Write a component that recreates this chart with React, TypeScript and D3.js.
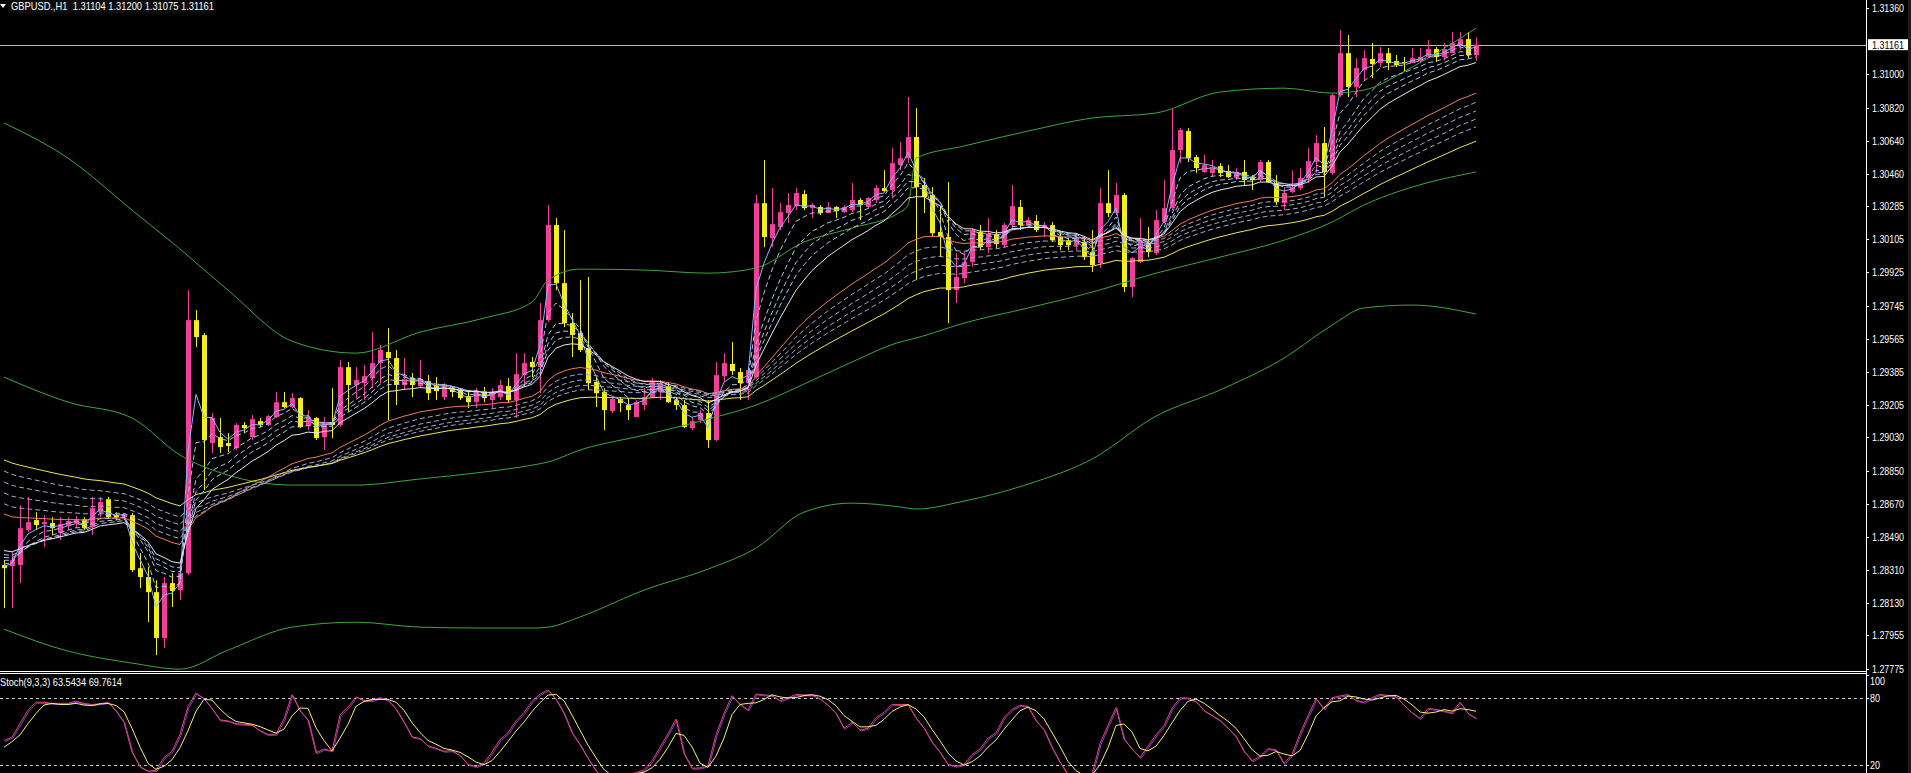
import * as d3 from 'd3';

const W = 1911;
const H = 773;
const AXIS_X = 1866;
const FONT = "'Liberation Sans', Arial, sans-serif";

// GBPUSD H1 bars, [open, high, low, close]
const ohlc: [number, number, number, number][] = [
  [1.28337, 1.28364, 1.28103, 1.28320], [1.28331, 1.28407, 1.28103, 1.28364], [1.28337, 1.28662, 1.28239, 1.28537],
  [1.28527, 1.28706, 1.28516, 1.28570], [1.28581, 1.28624, 1.28527, 1.28554], [1.28559, 1.28608, 1.28434, 1.28570],
  [1.28565, 1.28597, 1.28500, 1.28537], [1.28510, 1.28597, 1.28472, 1.28559], [1.28548, 1.28597, 1.28527, 1.28576],
  [1.28559, 1.28603, 1.28543, 1.28586], [1.28586, 1.28597, 1.28527, 1.28537], [1.28543, 1.28706, 1.28500, 1.28646],
  [1.28624, 1.28706, 1.28597, 1.28679], [1.28695, 1.28706, 1.28592, 1.28597], [1.28608, 1.28624, 1.28581, 1.28597],
  [1.28597, 1.28619, 1.28581, 1.28614], [1.28608, 1.28619, 1.28299, 1.28310], [1.28320, 1.28402, 1.28212, 1.28272],
  [1.28272, 1.28326, 1.28027, 1.28190], [1.28190, 1.28255, 1.27848, 1.27941], [1.27941, 1.28272, 1.27886, 1.28239],
  [1.28239, 1.28293, 1.28109, 1.28196], [1.28201, 1.28353, 1.28147, 1.28293], [1.28293, 1.29829, 1.28283, 1.29666],
  [1.29666, 1.29721, 1.29520, 1.29574], [1.29585, 1.29596, 1.28744, 1.29015], [1.28999, 1.29162, 1.28945, 1.29135],
  [1.29031, 1.29135, 1.28945, 1.28977], [1.28999, 1.29053, 1.28950, 1.28983], [1.28972, 1.29107, 1.28961, 1.29097],
  [1.29097, 1.29113, 1.29053, 1.29080], [1.29031, 1.29151, 1.29015, 1.29129], [1.29118, 1.29135, 1.29086, 1.29097],
  [1.29097, 1.29151, 1.29091, 1.29145], [1.29140, 1.29276, 1.29135, 1.29221], [1.29221, 1.29276, 1.29189, 1.29194],
  [1.29194, 1.29270, 1.29189, 1.29243], [1.29243, 1.29248, 1.29080, 1.29086], [1.29091, 1.29178, 1.29069, 1.29140],
  [1.29135, 1.29140, 1.29015, 1.29026], [1.29031, 1.29140, 1.28961, 1.29113], [1.29113, 1.29297, 1.29026, 1.29097],
  [1.29097, 1.29449, 1.29086, 1.29411], [1.29411, 1.29439, 1.29167, 1.29314], [1.29314, 1.29411, 1.29243, 1.29341],
  [1.29324, 1.29422, 1.29232, 1.29362], [1.29352, 1.29601, 1.29297, 1.29433], [1.29433, 1.29531, 1.29324, 1.29504],
  [1.29493, 1.29623, 1.29124, 1.29460], [1.29460, 1.29504, 1.29205, 1.29314], [1.29314, 1.29460, 1.29287, 1.29346],
  [1.29352, 1.29379, 1.29248, 1.29314], [1.29308, 1.29449, 1.29297, 1.29346], [1.29335, 1.29368, 1.29232, 1.29270],
  [1.29308, 1.29357, 1.29232, 1.29281], [1.29248, 1.29324, 1.29232, 1.29308], [1.29297, 1.29303, 1.29248, 1.29276],
  [1.29287, 1.29297, 1.29232, 1.29243], [1.29254, 1.29276, 1.29189, 1.29221], [1.29221, 1.29297, 1.29189, 1.29276],
  [1.29276, 1.29303, 1.29221, 1.29243], [1.29232, 1.29297, 1.29189, 1.29270], [1.29248, 1.29341, 1.29232, 1.29314],
  [1.29308, 1.29352, 1.29216, 1.29232], [1.29232, 1.29487, 1.29135, 1.29373], [1.29368, 1.29487, 1.29303, 1.29433],
  [1.29439, 1.29466, 1.29357, 1.29411], [1.29411, 1.29759, 1.29270, 1.29666], [1.29666, 1.30291, 1.29655, 1.30182],
  [1.30182, 1.30220, 1.29829, 1.29867], [1.29867, 1.30155, 1.29628, 1.29650], [1.29650, 1.29704, 1.29466, 1.29585],
  [1.29596, 1.29883, 1.29493, 1.29504], [1.29514, 1.29900, 1.29287, 1.29324], [1.29330, 1.29357, 1.29194, 1.29270],
  [1.29276, 1.29297, 1.29069, 1.29178], [1.29173, 1.29248, 1.29162, 1.29238], [1.29238, 1.29248, 1.29167, 1.29216],
  [1.29205, 1.29243, 1.29124, 1.29178], [1.29140, 1.29232, 1.29140, 1.29221], [1.29205, 1.29297, 1.29178, 1.29248],
  [1.29248, 1.29352, 1.29243, 1.29335], [1.29276, 1.29341, 1.29232, 1.29324], [1.29308, 1.29324, 1.29216, 1.29221],
  [1.29232, 1.29248, 1.29178, 1.29205], [1.29205, 1.29232, 1.29080, 1.29086], [1.29080, 1.29140, 1.29069, 1.29118],
  [1.29124, 1.29178, 1.29107, 1.29162], [1.29162, 1.29232, 1.28972, 1.29015], [1.29015, 1.29439, 1.29010, 1.29368],
  [1.29362, 1.29487, 1.29330, 1.29433], [1.29428, 1.29547, 1.29368, 1.29390], [1.29384, 1.29406, 1.29232, 1.29324],
  [1.29324, 1.29411, 1.29232, 1.29395], [1.29357, 1.30345, 1.29352, 1.30301], [1.30301, 1.30535, 1.30062, 1.30117],
  [1.30111, 1.30383, 1.30062, 1.30187], [1.30171, 1.30301, 1.30155, 1.30252], [1.30247, 1.30356, 1.30193, 1.30291],
  [1.30285, 1.30383, 1.30263, 1.30356], [1.30350, 1.30372, 1.30263, 1.30274], [1.30274, 1.30301, 1.30220, 1.30291],
  [1.30280, 1.30291, 1.30236, 1.30247], [1.30247, 1.30307, 1.30247, 1.30280], [1.30280, 1.30285, 1.30220, 1.30258],
  [1.30252, 1.30291, 1.30247, 1.30280], [1.30263, 1.30410, 1.30252, 1.30318], [1.30318, 1.30329, 1.30209, 1.30291],
  [1.30280, 1.30334, 1.30274, 1.30329], [1.30318, 1.30399, 1.30301, 1.30383], [1.30383, 1.30480, 1.30361, 1.30366],
  [1.30372, 1.30600, 1.30334, 1.30518], [1.30508, 1.30632, 1.30480, 1.30545], [1.30545, 1.30877, 1.30518, 1.30660],
  [1.30660, 1.30817, 1.29883, 1.30388], [1.30399, 1.30437, 1.30247, 1.30334], [1.30345, 1.30388, 1.30117, 1.30138],
  [1.30144, 1.30280, 1.30008, 1.30117], [1.30117, 1.30415, 1.29650, 1.29829], [1.29829, 1.30030, 1.29759, 1.29900],
  [1.29894, 1.30035, 1.29867, 1.29981], [1.29981, 1.30166, 1.29954, 1.30155], [1.30144, 1.30182, 1.30046, 1.30062],
  [1.30062, 1.30220, 1.30030, 1.30138], [1.30133, 1.30155, 1.30057, 1.30079], [1.30073, 1.30193, 1.30062, 1.30182],
  [1.30182, 1.30399, 1.30166, 1.30285], [1.30280, 1.30318, 1.30155, 1.30182], [1.30177, 1.30225, 1.30171, 1.30209],
  [1.30204, 1.30236, 1.30144, 1.30155], [1.30166, 1.30198, 1.30117, 1.30182], [1.30182, 1.30198, 1.30090, 1.30100],
  [1.30117, 1.30144, 1.30046, 1.30073], [1.30100, 1.30111, 1.30046, 1.30073], [1.30073, 1.30117, 1.30046, 1.30111],
  [1.30090, 1.30117, 1.29992, 1.30008], [1.30035, 1.30155, 1.29927, 1.29965], [1.29976, 1.30383, 1.29949, 1.30301],
  [1.30301, 1.30480, 1.30225, 1.30247], [1.30247, 1.30410, 1.30236, 1.30345], [1.30345, 1.30356, 1.29818, 1.29846],
  [1.29846, 1.30008, 1.29791, 1.30003], [1.29981, 1.30220, 1.29976, 1.30100], [1.30084, 1.30171, 1.30008, 1.30035],
  [1.30030, 1.30263, 1.30019, 1.30209], [1.30198, 1.30426, 1.30193, 1.30274], [1.30274, 1.30817, 1.30263, 1.30589],
  [1.30589, 1.30708, 1.30518, 1.30698], [1.30692, 1.30708, 1.30524, 1.30545], [1.30551, 1.30562, 1.30464, 1.30491],
  [1.30470, 1.30562, 1.30464, 1.30508], [1.30464, 1.30535, 1.30442, 1.30497], [1.30502, 1.30518, 1.30442, 1.30464],
  [1.30475, 1.30508, 1.30437, 1.30442], [1.30437, 1.30491, 1.30426, 1.30470], [1.30470, 1.30535, 1.30399, 1.30426],
  [1.30442, 1.30453, 1.30372, 1.30426], [1.30426, 1.30535, 1.30415, 1.30524], [1.30524, 1.30535, 1.30410, 1.30415],
  [1.30410, 1.30453, 1.30291, 1.30307], [1.30301, 1.30388, 1.30263, 1.30356], [1.30361, 1.30480, 1.30356, 1.30388],
  [1.30383, 1.30491, 1.30372, 1.30437], [1.30437, 1.30600, 1.30410, 1.30529], [1.30524, 1.30670, 1.30464, 1.30627],
  [1.30627, 1.30714, 1.30334, 1.30470], [1.30464, 1.30898, 1.30453, 1.30887], [1.30887, 1.31240, 1.30877, 1.31115],
  [1.31115, 1.31213, 1.30877, 1.30931], [1.30931, 1.31088, 1.30877, 1.31034], [1.31023, 1.31132, 1.30969, 1.31088],
  [1.31083, 1.31170, 1.30980, 1.31056], [1.31061, 1.31148, 1.31039, 1.31115], [1.31115, 1.31143, 1.31023, 1.31061],
  [1.31072, 1.31105, 1.31039, 1.31050], [1.31067, 1.31094, 1.31012, 1.31061], [1.31061, 1.31143, 1.31061, 1.31088],
  [1.31072, 1.31143, 1.31061, 1.31094], [1.31094, 1.31186, 1.31088, 1.31137], [1.31137, 1.31148, 1.31067, 1.31094],
  [1.31094, 1.31170, 1.31077, 1.31137], [1.31115, 1.31229, 1.31115, 1.31170], [1.31159, 1.31229, 1.31132, 1.31191],
  [1.31191, 1.31229, 1.31088, 1.31105], [1.31104, 1.31200, 1.31075, 1.31161],
];

const priceTicks = [
  '1.31360', '1.31000', '1.30820', '1.30640', '1.30460', '1.30285', '1.30105', '1.29925', '1.29745', '1.29565',
  '1.29385', '1.29205', '1.29030', '1.28850', '1.28670', '1.28490', '1.28310', '1.28130', '1.27955', '1.27775',
];
const lastPrice = 1.31161;
const headerText = 'GBPUSD.,H1  1.31104 1.31200 1.31075 1.31161';
const stochText = 'Stoch(9,3,3) 63.5434 69.7614';
const stochLevels = [80, 20];
const stochLabels = ['100', '80', '20'];

// guppy-style EMA groups, with their value just before the first visible bar
const shortPeriods = [3, 5, 8, 10, 12, 15];
const shortSeeds = [1.28337, 1.28353, 1.28375, 1.28391, 1.28407, 1.28429];
const longPeriods = [30, 35, 40, 45, 50, 60];
const longSeeds = [1.28635, 1.2869, 1.28749, 1.28809, 1.28869, 1.28928];

// bollinger bands read at a few bars
const bbIndex = [0, 8, 16, 22, 28, 36, 44, 52, 60, 66, 68, 72, 80, 88, 94, 100, 106, 112, 113, 114, 120, 128, 136, 144, 152, 160, 166, 170, 176, 184];
const bbUpper = [1.30736, 1.30545, 1.30263, 1.30052, 1.29829, 1.29552, 1.29487, 1.29601, 1.29677, 1.29764, 1.29883, 1.29943, 1.29938, 1.29921, 1.29949, 1.3009, 1.30166, 1.30252, 1.30291, 1.30545, 1.30611, 1.30692, 1.30763, 1.3079, 1.30904, 1.30925, 1.30898, 1.30915, 1.31039, 1.31251];
const bbMiddle = [1.29357, 1.29221, 1.29135, 1.28934, 1.28825, 1.28771, 1.28771, 1.28804, 1.28842, 1.28879, 1.28896, 1.28961, 1.29042, 1.29129, 1.29205, 1.29319, 1.29439, 1.29547, 1.29558, 1.29569, 1.2965, 1.29732, 1.29818, 1.29921, 1.30008, 1.301, 1.30198, 1.30291, 1.30388, 1.3047];
const bbLower = [1.27989, 1.2787, 1.27805, 1.27772, 1.27875, 1.28, 1.28027, 1.28, 1.27995, 1.27995, 1.28, 1.28055, 1.28201, 1.28315, 1.28429, 1.28624, 1.28673, 1.28652, 1.28646, 1.28641, 1.28684, 1.28776, 1.28912, 1.29145, 1.29287, 1.2946, 1.29639, 1.29732, 1.29748, 1.29699];

// stochastic values of the first bars (their history is off screen)
const stochMainLead = [42, 45, 57, 69, 76, 76, 75, 75, 75, 77];
const stochSignalLead = [36, 41, 47, 57, 66, 73.5, 75, 74, 74, 75, 73.5, 73];

const closes = ohlc.map((d) => d[3]);

const ema = (period: number, seed: number) => {
  const k = 2 / (period + 1);
  let prev = seed;
  return closes.map((c) => (prev = prev + k * (c - prev)));
};

const hh = (i: number) => d3.max(ohlc.slice(i - 8, i + 1), (d) => d[1]) as number;
const ll = (i: number) => d3.min(ohlc.slice(i - 8, i + 1), (d) => d[2]) as number;

const stochMain = ohlc.map((d, i) => {
  if (i < 10) return stochMainLead[i];
  let num = 0;
  let den = 0;
  for (let j = i - 2; j <= i; j++) {
    num += closes[j] - ll(j);
    den += hh(j) - ll(j);
  }
  return (100 * num) / den;
});
const stochSignal = stochMain.map((v, i) => (i < 12 ? stochSignalLead[i] : (stochMain[i] + stochMain[i - 1] + stochMain[i - 2]) / 3));

const x = d3.scaleLinear().domain([0, ohlc.length - 1]).range([4, 1476]);
const y = d3.scaleLinear().domain([1.27775, 1.3136]).range([668.6, 8]);
const ys = d3.scaleLinear().domain([0, 100]).range([787.8, 675.2]);

const priceLine = d3.line<number>().x((_, i) => x(i)).y((v) => y(v));
const bbLine = (vals: number[]) =>
  d3.line<number>().x((_, i) => x(bbIndex[i])).y((v) => y(v)).curve(d3.curveMonotoneX)(vals) as string;
const stochLine = d3.line<number>().x((_, i) => x(i)).y((v) => ys(v));

const shortLines = shortPeriods.map((p, k) => ema(p, shortSeeds[k]));
const longLines = longPeriods.map((p, k) => ema(p, longSeeds[k]));

const BULL = '#f0409a';
const BEAR = '#f2ef1c';

const App = () => {
  return (
    <svg width={W} height={H} style={{ position: 'absolute', left: 0, top: 0, display: 'block' }}>
      <defs>
        <clipPath id="main">
          <rect x={0} y={0} width={AXIS_X} height={671} />
        </clipPath>
        <clipPath id="sub">
          <rect x={0} y={675} width={AXIS_X} height={H - 675} />
        </clipPath>
      </defs>
      <rect width={W} height={H} fill="#000" />
      <rect x={1908} y={0} width={3} height={H} fill="#1c1c1c" />

      <g clipPath="url(#main)">
        <line x1={0} x2={AXIS_X} y1={Math.round(y(lastPrice)) + 0.5} y2={Math.round(y(lastPrice)) + 0.5} stroke="#b8b8b8" />
        {ohlc.map((d, i) => {
          const cx = Math.round(x(i));
          const col = d[3] > d[0] ? BULL : BEAR;
          const top = y(Math.max(d[0], d[3]));
          const bot = y(Math.min(d[0], d[3]));
          return (
            <g key={i}>
              <line x1={cx + 0.5} x2={cx + 0.5} y1={y(d[1])} y2={y(d[2])} stroke={col} />
              <rect x={cx - 2} y={top} width={5} height={Math.max(1, bot - top)} fill={col} />
            </g>
          );
        })}
        <g fill="none" stroke="#3aa83a" strokeWidth={1}>
          <path d={bbLine(bbUpper)} />
          <path d={bbLine(bbMiddle)} />
          <path d={bbLine(bbLower)} />
        </g>
        <g fill="none" strokeWidth={1}>
          {longLines.map((vals, k) => (
            <path
              key={'l' + k}
              d={priceLine(vals) as string}
              stroke={k === 0 ? '#f07a5e' : k === longLines.length - 1 ? '#ece45a' : '#a2a8c8'}
              strokeDasharray={k === 0 || k === longLines.length - 1 ? undefined : '5 3'}
            />
          ))}
          {shortLines.map((vals, k) => (
            <path
              key={'s' + k}
              d={priceLine(vals) as string}
              stroke={k === 0 ? '#86b8ff' : k === shortLines.length - 1 ? '#e6e6f0' : '#a9c6ec'}
              strokeDasharray={k === 0 || k === shortLines.length - 1 ? undefined : '5 3'}
            />
          ))}
        </g>
      </g>

      {/* header */}
      <rect x={8} y={0} width={208} height={13} fill="#0c0c0c" />
      <polygon points="0,4 6,4 3,8" fill="#fff" />
      <text x={11} y={10} fill="#fff" fontSize={11} fontFamily={FONT} textLength={203} lengthAdjust="spacingAndGlyphs" style={{ whiteSpace: 'pre' }}>
        {headerText}
      </text>

      {/* price axis */}
      <line x1={AXIS_X + 0.5} x2={AXIS_X + 0.5} y1={0} y2={H} stroke="#fff" />
      {priceTicks.map((t) => {
        const ty = Math.round(y(+t)) + 0.5;
        return (
          <g key={t}>
            <line x1={AXIS_X} x2={AXIS_X + 3} y1={ty} y2={ty} stroke="#fff" />
            <text x={1872} y={ty} dy="0.35em" fill="#fff" fontSize={11} fontFamily={FONT} textLength={32} lengthAdjust="spacingAndGlyphs">
              {t}
            </text>
          </g>
        );
      })}
      <rect x={1868} y={y(lastPrice) - 5.5} width={40} height={11} fill="#fff" />
      <text x={1872} y={y(lastPrice)} dy="0.35em" fill="#000" fontSize={11} fontFamily={FONT} textLength={32} lengthAdjust="spacingAndGlyphs">
        {lastPrice.toFixed(5)}
      </text>

      {/* separator */}
      <line x1={0} x2={AXIS_X} y1={671.5} y2={671.5} stroke="#fff" />
      <line x1={0} x2={AXIS_X} y1={673.5} y2={673.5} stroke="#fff" />

      {/* stochastic */}
      <g clipPath="url(#sub)">
        {stochLevels.map((lv) => (
          <line key={lv} x1={0} x2={AXIS_X} y1={Math.round(ys(lv)) + 0.5} y2={Math.round(ys(lv)) + 0.5} stroke="#c8c8c8" strokeDasharray="3 3" />
        ))}
        <g fill="none" strokeWidth={1}>
          <path d={stochLine(stochMain) as string} stroke="#8a3ad0" transform="translate(1,1)" />
          <path d={stochLine(stochMain) as string} stroke="#e2486a" />
          <path d={stochLine(stochSignal) as string} stroke="#f4f07a" />
        </g>
      </g>
      <text x={0} y={686} fill="#fff" fontSize={11} fontFamily={FONT} textLength={122} lengthAdjust="spacingAndGlyphs">
        {stochText}
      </text>
      {stochLabels.map((lab, k) => {
        const v = +lab;
        const ty = k === 0 ? 681 : ys(v);
        return (
          <g key={lab}>
            <line x1={AXIS_X} x2={AXIS_X + 3} y1={Math.round(ys(v)) + 0.5} y2={Math.round(ys(v)) + 0.5} stroke="#fff" />
            <text x={1870} y={ty} dy="0.35em" fill="#fff" fontSize={11} fontFamily={FONT} textLength={lab.length * 5} lengthAdjust="spacingAndGlyphs">
              {lab}
            </text>
          </g>
        );
      })}
    </svg>
  );
};

export default App;
